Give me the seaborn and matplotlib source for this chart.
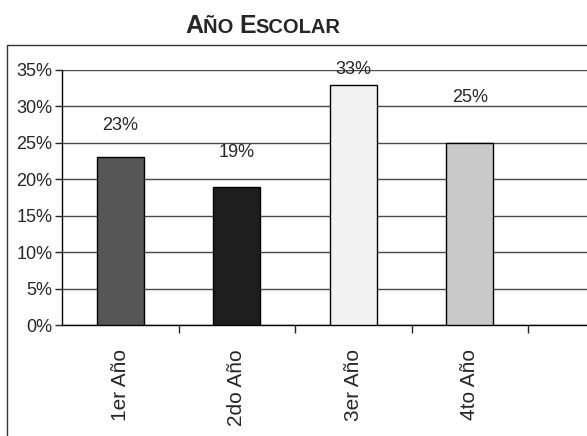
import matplotlib
matplotlib.use('Agg')
import matplotlib.pyplot as plt
import seaborn as sns
import pandas as pd
from matplotlib.patches import Rectangle
from matplotlib.ticker import FuncFormatter, FixedLocator

categories = ['1er Año', '2do Año', '3er Año', '4to Año']
values = [23, 19, 33, 25]
bar_colors = ['#565656', '#1e1e1e', '#f2f2f2', '#c9c9c9']
label_offsets = [32, 34, 15, 45]  # pixels from bar top to label centre, as in the scan

df = pd.DataFrame({'anio': categories, 'pct': values})

sns.set_style('white')
plt.rcParams['font.family'] = ['Liberation Sans', 'DejaVu Sans']

fig = plt.figure(figsize=(5.87, 4.36), dpi=100)
# plot area: left x=62px, 0% at y=325px, 35% at y=70px, runs past right edge
ax = fig.add_axes([62 / 587, (436 - 325) / 436, 1 - 62 / 587, (325 - 70) / 436])

sns.barplot(data=df, x='anio', y='pct', hue='anio', palette=bar_colors,
            legend=False, width=0.4, edgecolor='black', linewidth=1,
            saturation=1, ax=ax, zorder=3)

step = 116.5
ax.set_xlim(-0.5, (587 - 62) / step - 0.5)
ax.set_ylim(0, 35)
ax.set_yticks(range(0, 36, 5))
ax.yaxis.set_major_formatter(FuncFormatter(lambda v, p: f'{int(v)}%'))
ax.grid(axis='y', color='#4a4a4a', linewidth=1, zorder=0)
ax.set_axisbelow(True)

ax.set_xlabel('')
ax.set_ylabel('')
ax.tick_params(axis='y', labelsize=13, left=True, length=5, width=1, pad=2)
ax.set_xticks(range(len(categories)))
ax.set_xticklabels(categories, rotation=90, fontsize=15)
ax.tick_params(axis='x', bottom=False, pad=14)
ax.xaxis.set_minor_locator(FixedLocator([i + 0.5 for i in range(len(categories))]))
ax.tick_params(axis='x', which='minor', bottom=True, length=6, width=1, direction='out')

for s in ['top', 'right']:
    ax.spines[s].set_visible(False)
for s in ['left', 'bottom']:
    ax.spines[s].set_color('black')
    ax.spines[s].set_linewidth(1)

for i, (v, off) in enumerate(zip(values, label_offsets)):
    ax.annotate(f'{v}%', (i, v), xytext=(0, off), textcoords='offset pixels',
                ha='center', va='center', fontsize=13, clip_on=False)

# outer chart frame (cut off on right and bottom in the scan)
fig.patches.append(Rectangle((7 / 587, -0.1), 1.2, (436 - 45) / 436 + 0.1,
                             transform=fig.transFigure, fill=False,
                             edgecolor='#333333', linewidth=1))

# small caps title: "AÑO ESCOLAR"
renderer = fig.canvas.get_renderer()
pieces = [('A', 18), ('ÑO ', 14.5), ('E', 18), ('SCOLAR', 14.5)]
texts = []
for txt, sz in pieces:
    texts.append(fig.text(0, 1 - 33 / 436, txt, fontsize=sz, fontweight='bold',
                          ha='left', va='baseline'))
widths = [t.get_window_extent(renderer).width for t in texts]
x = 263 - sum(widths) / 2
for t, w in zip(texts, widths):
    t.set_x(x / 587)
    x += w

fig.savefig('out.png', dpi=100)
